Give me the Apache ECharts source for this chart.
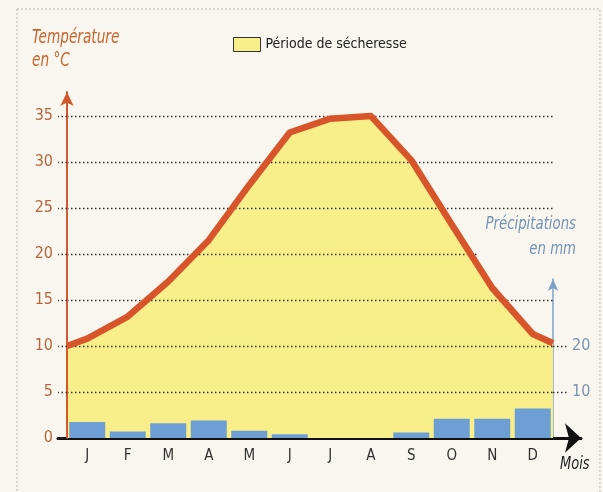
<!DOCTYPE html>
<html>
<head>
<meta charset="utf-8">
<script src="https://cdn.jsdelivr.net/npm/echarts@6/dist/echarts.min.js"></script>
<style>
  html, body { margin: 0; padding: 0; background: #f8f6ee; }
  #chart { width: 603px; height: 492px; }
</style>
</head>
<body>
<div id="chart"></div>
<script>
// mois
var months = ['J', 'F', 'M', 'A', 'M', 'J', 'J', 'A', 'S', 'O', 'N', 'D'];
// précipitations en mm
var precip = [3.5, 1.4, 3.2, 3.8, 1.6, 0.8, 0, 0, 1.2, 4.2, 4.2, 6.4];
// température: position en mois (0 = début janvier, 12 = fin décembre)
var tempX = [0, 0.5, 1.5, 2.5, 3.5, 4.5, 5.5, 6.5, 7.5, 8.5, 9.5, 10.5, 11.5, 12];
var tempY = [10.0, 10.8, 13.2, 17.0, 21.5, 27.5, 33.2, 34.7, 35.0, 30.2, 23.2, 16.3, 11.3, 10.3];
// graduations
var precipTicks = [10, 20];

var font = '"DejaVu Sans Condensed", "Liberation Sans Narrow", sans-serif';
var tempData = tempX.map(function (x, i) { return [x, tempY[i]]; });
var dots = { color: '#333', type: [1.5, 2.5], width: 1.3 };

var myChart = echarts.init(document.getElementById('chart'));
var option = {
    backgroundColor: '#f8f6ee',
    animation: false,
    legend: {
        left: 233, top: 37, padding: 0,
        itemWidth: 27, itemHeight: 14, itemGap: 8,
        textStyle: { fontSize: 14, color: '#222', fontFamily: font },
        data: [{
            name: 'Période de sécheresse', icon: 'rect',
            itemStyle: { color: '#f8ee8a', borderColor: '#333', borderWidth: 1 }
        }]
    },
    graphic: [
        {
            type: 'rect', z: -1,
            shape: { x: 17, y: 9, width: 583, height: 520 },
            style: { fill: 'none', stroke: '#b5b5b5', lineWidth: 1, lineDash: [2, 2] }
        },
        {
            type: 'text', x: 32, y: 27, scaleX: 0.8,
            style: { text: 'Température\nen °C', fill: '#c9672f', font: 'italic 19px ' + font, lineHeight: 23 }
        },
        {
            type: 'text', x: 576, y: 212, scaleX: 0.82, z: 10,
            style: {
                text: 'Précipitations\nen mm', fill: '#7392b3', font: 'italic 18px ' + font, lineHeight: 25, align: 'right',
                backgroundColor: '#f8f6ee', padding: [0, 0, 0, 8]
            }
        },
        {
            type: 'text', x: 560, y: 456, scaleX: 0.85,
            style: { text: 'Mois', fill: '#222', font: 'italic 17px ' + font }
        }
    ],
    grid: [
        { left: 67, right: 50, top: 92, bottom: 54 },
        { left: 553, width: 1, top: 279, bottom: 54 },
        { left: 58, right: 22, top: 437, bottom: 54 }
    ],
    xAxis: [
        {
            type: 'category', gridIndex: 0, data: months,
            axisLine: { show: false }, axisTick: { show: false },
            axisLabel: { color: '#333', fontSize: 15, fontFamily: font, margin: 11 }
        },
        { type: 'value', gridIndex: 0, min: 0, max: 12, show: false },
        { type: 'value', gridIndex: 1, show: false },
        {
            type: 'value', gridIndex: 2, min: 0, max: 1,
            axisLine: { lineStyle: { color: '#111', width: 3 }, symbol: ['none', 'arrow'], symbolSize: [22, 16] },
            axisTick: { show: false }, axisLabel: { show: false }, splitLine: { show: false }
        }
    ],
    yAxis: [
        {
            type: 'value', gridIndex: 0, min: 0, max: 37.6, interval: 5, z: 3,
            axisLine: { show: true, lineStyle: { color: '#d4582d', width: 2 }, symbol: ['none', 'arrow'], symbolSize: [10, 14] },
            axisTick: { show: true, length: 9, lineStyle: dots },
            axisLabel: { color: '#b4673f', fontSize: 16, fontFamily: font, margin: 14, showMaxLabel: false },
            splitLine: { show: true, showMinLine: false, showMaxLine: false, lineStyle: dots }
        },
        { type: 'value', gridIndex: 0, min: 0, max: 75.2, show: false },
        {
            type: 'value', gridIndex: 1, min: 0, max: 34.6, position: 'left',
            axisLine: { show: true, lineStyle: { color: '#7da3c8', width: 1.5 }, symbol: ['none', 'arrow'], symbolSize: [8, 12] },
            axisTick: { show: true, inside: true, length: 14, customValues: precipTicks, lineStyle: dots },
            axisLabel: { inside: true, margin: 19, customValues: precipTicks, color: '#7b93ad', fontSize: 16, fontFamily: font },
            splitLine: { show: false }
        },
        { type: 'value', gridIndex: 2, show: false }
    ],
    series: [
        {
            name: 'Période de sécheresse', type: 'line', xAxisIndex: 1, yAxisIndex: 0, z: 1,
            data: tempData, symbol: 'none', lineStyle: { width: 0 },
            itemStyle: { color: '#f8ee8a' },
            areaStyle: { color: '#f8ee8a', opacity: 1 }
        },
        {
            name: 'Précipitations', type: 'bar', xAxisIndex: 0, yAxisIndex: 1, z: 3,
            data: precip, barWidth: 36,
            itemStyle: { color: '#6d9fd4' }
        },
        {
            name: 'Température', type: 'line', xAxisIndex: 1, yAxisIndex: 0, z: 5,
            data: tempData, symbol: 'none',
            lineStyle: { color: '#d8542a', width: 6.5, join: 'round' }
        }
    ]
};
myChart.setOption(option);
</script>
</body>
</html>
